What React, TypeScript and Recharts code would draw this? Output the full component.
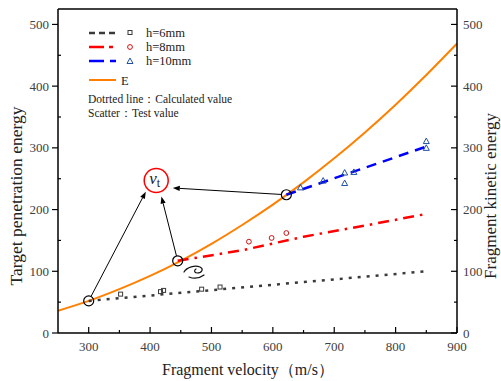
import React from 'react';
import {
  ComposedChart,
  Line,
  Scatter,
  XAxis,
  YAxis,
  ReferenceDot,
  ReferenceLine,
  Customized,
} from 'recharts';

// ---------- data ----------
const energyV = [250, 300, 350, 400, 450, 500, 550, 600, 650, 700, 750, 800, 850, 900];
const energyE = [36, 52, 71, 92.5, 117, 144.5, 175, 208, 244, 283, 325, 370, 418, 469];

const h6CalcV = [300, 850];
const h6CalcE = [52, 100];
const h8CalcV = [445, 550, 650, 750, 850];
const h8CalcE = [117, 134, 156, 174, 193];
const h10CalcV = [622, 850];
const h10CalcE = [224, 302];

const h6TestV = [352, 417, 422, 484, 514];
const h6TestE = [63, 67, 69, 71, 74.5];
const h8TestV = [561, 598, 622];
const h8TestE = [148, 154, 162];
const h10TestV = [645, 682, 717, 717, 732, 850, 850];
const h10TestE = [236, 247, 260, 243, 261, 311, 300];

// critical points (v_t) on the E curve
const vtV = [300, 445, 622];
const vtE = [52, 117, 224];
// v_t label bubble and arrow tips
const vtLabelV = 410;
const vtLabelE = 247;
const arrowTipV = [393, 418.5, 437];
const arrowTipE = [229, 221, 235];

const xTicks = [300, 350, 400, 450, 500, 550, 600, 650, 700, 750, 800, 850, 900];
const yTicks = [0, 50, 100, 150, 200, 250, 300, 350, 400, 450, 500];

const seriesNames = ['h=6mm', 'h=8mm', 'h=10mm', 'E'];
const noteLines = ['Dotrted line\uFF1ACalculated value', 'Scatter\uFF1ATest value'];

const xTitle = 'Fragment velocity\uFF08m/s\uFF09';
const yTitleLeft = 'Target penetration energy';
const yTitleRight = 'Fragment kinetic energy';

const zip = (a: number[], b: number[]) => a.map((x, i) => ({ x, y: b[i] }));

const energyData = zip(energyV, energyE);
const h6Calc = zip(h6CalcV, h6CalcE);
const h8Calc = zip(h8CalcV, h8CalcE);
const h10Calc = zip(h10CalcV, h10CalcE);
const h6Test = zip(h6TestV, h6TestE);
const h8Test = zip(h8TestV, h8TestE);
const h10Test = zip(h10TestV, h10TestE);

// ---------- layout / style ----------
const W = 501;
const H = 381;
const TOP = 9;
const XAXIS_H = 48;
const LEFT_W = 58;
const RIGHT_W = 44;
const AX_Y = H - XAXIS_H;
const LEFT_X = LEFT_W;
const RIGHT_X = W - RIGHT_W;
const FONT = "'Liberation Serif', 'Times New Roman', serif";
const TICK_COLOR = '#404040';

const C_GRAY = '#3a3a3a';
const C_RED = '#ff0000';
const C_BLUE = '#0000ff';
const C_ORANGE = '#ff8000';
const C_RED_M = '#d01010';
const C_BLUE_M = '#2050a0';

const XTick = (p: any) => {
  const v = p.payload.value;
  const x = p.x;
  const major = v % 100 === 0;
  return (
    <g>
      <line x1={x} x2={x} y1={AX_Y} y2={AX_Y - (major ? 6 : 3)} stroke="#000" strokeWidth={1.2} />
      {major && (
        <text x={x} y={AX_Y + 18} textAnchor="middle" fontSize={13} fill={TICK_COLOR} fontFamily={FONT}>
          {v}
        </text>
      )}
    </g>
  );
};

const YTickLeft = (p: any) => {
  const v = p.payload.value;
  const y = p.y;
  const major = v % 100 === 0;
  return (
    <g>
      <line x1={LEFT_X} x2={major ? LEFT_X - 6 : LEFT_X + 3} y1={y} y2={y} stroke="#000" strokeWidth={1.2} />
      {major && (
        <text x={LEFT_X - 9} y={y + 4.5} textAnchor="end" fontSize={13} fill={TICK_COLOR} fontFamily={FONT}>
          {v}
        </text>
      )}
    </g>
  );
};

const YTickRight = (p: any) => {
  const v = p.payload.value;
  const y = p.y;
  const major = v % 100 === 0;
  return (
    <g>
      <line x1={RIGHT_X} x2={RIGHT_X - (major ? 6 : 3)} y1={y} y2={y} stroke="#000" strokeWidth={1.2} />
      {major && (
        <text x={RIGHT_X + 6} y={y + 4.5} textAnchor="start" fontSize={13} fill={TICK_COLOR} fontFamily={FONT}>
          {v}
        </text>
      )}
    </g>
  );
};

const SquareShape = (p: any) => (
  <rect x={p.cx - 2} y={p.cy - 2} width={4} height={4} fill="none" stroke={C_GRAY} strokeWidth={1} />
);
const CircleShape = (p: any) => <circle cx={p.cx} cy={p.cy} r={2.4} fill="none" stroke={C_RED_M} strokeWidth={1} />;
const TriShape = (p: any) => (
  <polygon
    points={`${p.cx},${p.cy - 3} ${p.cx - 3},${p.cy + 2.5} ${p.cx + 3},${p.cy + 2.5}`}
    fill="none"
    stroke={C_BLUE_M}
    strokeWidth={1}
  />
);

const Arrow = (p: any) => {
  const { x1, y1, x2, y2 } = p;
  const dx = x2 - x1;
  const dy = y2 - y1;
  const L = Math.hypot(dx, dy) || 1;
  const ux = dx / L;
  const uy = dy / L;
  const sx = x1 + ux * 5;
  const sy = y1 + uy * 5;
  const hl = 7;
  const hw = 2.6;
  const bx = x2 - ux * hl;
  const by = y2 - uy * hl;
  return (
    <g>
      <line x1={sx} y1={sy} x2={bx} y2={by} stroke="#000" strokeWidth={1} />
      <polygon
        points={`${x2},${y2} ${bx - uy * hw},${by + ux * hw} ${bx + uy * hw},${by - ux * hw}`}
        fill="#000"
      />
    </g>
  );
};

const VtShape = (p: any) => (
  <g>
    <circle cx={p.cx} cy={p.cy} r={12} fill="#fff" stroke="#ff0000" strokeWidth={1.5} />
    <text x={p.cx - 7} y={p.cy + 3} fontFamily={FONT} fill="#222">
      <tspan fontStyle="italic" fontSize={17}>v</tspan>
      <tspan fontSize={12} dy={3}>t</tspan>
    </text>
  </g>
);

const Overlay = () => {
  const lx1 = 89;
  const lx2 = 116;
  const mx = 130;
  const tx = 146;
  const rows = [33, 47, 61];
  return (
    <g fontFamily={FONT}>
      {/* legend */}
      <line x1={lx1} x2={lx2} y1={rows[0]} y2={rows[0]} stroke={C_GRAY} strokeWidth={2.5} strokeDasharray="6 4" />
      <rect x={mx - 2} y={rows[0] - 2.5} width={4} height={4} fill="none" stroke={C_GRAY} strokeWidth={1} />
      <text x={tx} y={rows[0] + 4} fontSize={12.5} fill="#222">{seriesNames[0]}</text>

      <line x1={lx1} x2={lx2} y1={rows[1]} y2={rows[1]} stroke={C_RED} strokeWidth={2.5} strokeDasharray="15 5 4 5" />
      <circle cx={mx} cy={rows[1]} r={2.4} fill="none" stroke={C_RED_M} strokeWidth={1} />
      <text x={tx} y={rows[1] + 4} fontSize={12.5} fill="#222">{seriesNames[1]}</text>

      <line x1={lx1} x2={lx2} y1={rows[2]} y2={rows[2]} stroke={C_BLUE} strokeWidth={2.5} strokeDasharray="15 6 6 6" />
      <polygon
        points={`${mx},${rows[2] - 3} ${mx - 3},${rows[2] + 2.5} ${mx + 3},${rows[2] + 2.5}`}
        fill="none"
        stroke={C_BLUE_M}
        strokeWidth={1}
      />
      <text x={tx} y={rows[2] + 4} fontSize={12.5} fill="#222">{seriesNames[2]}</text>

      <line x1={lx1} x2={lx2} y1={80} y2={80} stroke={C_ORANGE} strokeWidth={2} />
      <text x={121} y={84.5} fontSize={12.5} fill="#222">{seriesNames[3]}</text>

      <text x={88} y={103} fontSize={11.5} fill="#222">{noteLines[0]}</text>
      <text x={88} y={117} fontSize={11.5} fill="#222">{noteLines[1]}</text>

      {/* axis titles */}
      <text transform="translate(22,196) rotate(-90)" textAnchor="middle" fontSize={17.5} fill="#222">
        {yTitleLeft}
      </text>
      <text transform="translate(495.5,196) rotate(-90)" textAnchor="middle" fontSize={17} fill="#222">
        {yTitleRight}
      </text>
      <text x={248} y={375} textAnchor="middle" fontSize={16} fill="#222">
        {xTitle}
      </text>

      {/* curl mark */}
      <path
        d="M184,272 C187,267 195,265 200,267 C204,269 202,273 197,273 C194,273 194,270 196,269 M189,277 C194,279 200,278 204,275"
        fill="none"
        stroke="#111"
        strokeWidth={1.2}
        strokeLinecap="round"
      />
    </g>
  );
};

export default function App() {
  return (
    <div style={{ position: 'absolute', left: 0, top: 0, width: W, height: H, background: '#fff' }}>
      <ComposedChart width={W} height={H} margin={{ top: TOP, right: 0, bottom: 0, left: 0 }}>
        <XAxis
          dataKey="x"
          type="number"
          domain={[250, 900]}
          ticks={xTicks}
          interval={0}
          height={XAXIS_H}
          tickLine={false}
          tick={XTick}
          axisLine={{ stroke: '#000', strokeWidth: 1.5 }}
          allowDataOverflow
        />
        <YAxis
          yAxisId="left"
          dataKey="y"
          type="number"
          domain={[0, 525]}
          ticks={yTicks}
          interval={0}
          width={LEFT_W}
          tickLine={false}
          tick={YTickLeft}
          axisLine={{ stroke: '#000', strokeWidth: 1.5 }}
          allowDataOverflow
        />
        <YAxis
          yAxisId="right"
          orientation="right"
          type="number"
          domain={[0, 525]}
          ticks={yTicks}
          interval={0}
          width={RIGHT_W}
          tickLine={false}
          tick={YTickRight}
          axisLine={{ stroke: '#000', strokeWidth: 1.5 }}
          allowDataOverflow
        />
        <ReferenceLine yAxisId="left" y={525} stroke="#000" strokeWidth={1.5} />

        <Line
          yAxisId="left"
          data={energyData}
          dataKey="y"
          type="monotone"
          stroke={C_ORANGE}
          strokeWidth={2}
          dot={false}
          activeDot={false}
          isAnimationActive={false}
        />
        <Line
          yAxisId="left"
          data={h6Calc}
          dataKey="y"
          type="linear"
          stroke={C_GRAY}
          strokeWidth={2.5}
          strokeDasharray="3 6"
          dot={false}
          activeDot={false}
          isAnimationActive={false}
        />
        <Line
          yAxisId="left"
          data={h8Calc}
          dataKey="y"
          type="linear"
          stroke={C_RED}
          strokeWidth={2.5}
          strokeDasharray="11 6 2.5 6"
          dot={false}
          activeDot={false}
          isAnimationActive={false}
        />
        <Line
          yAxisId="left"
          data={h10Calc}
          dataKey="y"
          type="linear"
          stroke={C_BLUE}
          strokeWidth={2.5}
          strokeDasharray="10 7"
          dot={false}
          activeDot={false}
          isAnimationActive={false}
        />
        <Scatter yAxisId="left" data={h6Test} shape={SquareShape} isAnimationActive={false} />
        <Scatter yAxisId="left" data={h8Test} shape={CircleShape} isAnimationActive={false} />
        <Scatter yAxisId="left" data={h10Test} shape={TriShape} isAnimationActive={false} />

        {vtV.map((v, i) => (
          <ReferenceLine
            key={'a' + i}
            yAxisId="left"
            segment={[
              { x: v, y: vtE[i] },
              { x: arrowTipV[i], y: arrowTipE[i] },
            ]}
            shape={Arrow}
          />
        ))}
        {vtV.map((v, i) => (
          <ReferenceDot
            key={'d' + i}
            yAxisId="left"
            x={v}
            y={vtE[i]}
            r={5}
            fill="none"
            stroke="#000"
            strokeWidth={1.2}
          />
        ))}
        <ReferenceDot yAxisId="left" x={vtLabelV} y={vtLabelE} r={12} shape={VtShape} />
        <Customized component={Overlay} />
      </ComposedChart>
    </div>
  );
}
